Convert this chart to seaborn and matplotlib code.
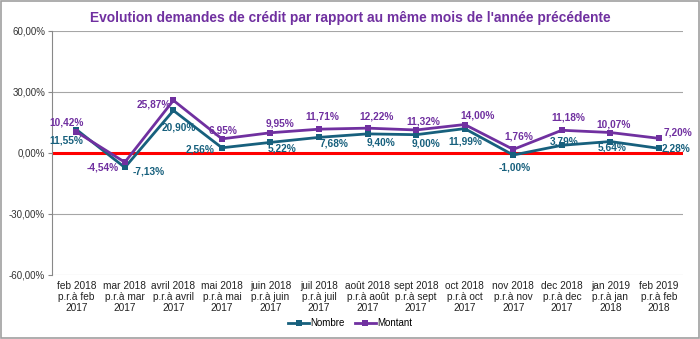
import matplotlib
matplotlib.use("Agg")
import matplotlib.pyplot as plt
import seaborn as sns
import pandas as pd
import numpy as np

categories = [
    "feb 2018\np.r.à feb\n2017", "mar 2018\np.r.à mar\n2017", "avril 2018\np.r.à avril\n2017",
    "mai 2018\np.r.à mai\n2017", "juin 2018\np.r.à juin\n2017", "juil 2018\np.r.à juil\n2017",
    "août 2018\np.r.à août\n2017", "sept 2018\np.r.à sept\n2017", "oct 2018\np.r.à oct\n2017",
    "nov 2018\np.r.à nov\n2017", "dec 2018\np.r.à dec\n2017", "jan 2019\np.r.à jan\n2018",
    "feb 2019\np.r.à feb\n2018",
]
nombre = [11.55, -7.13, 20.90, 2.56, 5.22, 7.68, 9.40, 9.00, 11.99, -1.00, 3.79, 5.64, 2.28]
montant = [10.42, -4.54, 25.87, 6.95, 9.95, 11.71, 12.22, 11.32, 14.00, 1.76, 11.18, 10.07, 7.20]
series_names = ["Nombre", "Montant"]
title = "Evolution demandes de crédit par rapport au même mois de l'année précédente"

# label offsets in points (style only)
off_nombre = [(-7, -8), (17, -3), (4, -12), (-16, -1), (8, -4.5), (11, -4.5), (10, -6.5), (7, -6),
              (0.5, -9), (1, -9), (2, 3), (1.5, -4.5), (12, 0)]
off_montant = [(-7, 6.5), (-16, -3.5), (-14, -3), (1, 6), (7, 6.5), (2, 9), (6.5, 8.5), (5, 6),
               (9, 6.5), (4, 9), (5, 9), (2, 6), (14, 4)]

df = pd.DataFrame({
    "x": list(range(len(categories))) * 2,
    "val": nombre + montant,
    "serie": [series_names[0]] * len(nombre) + [series_names[1]] * len(montant),
})

c_nombre = "#17607D"
c_montant = "#7030A0"

plt.rcParams["font.family"] = ["Liberation Sans", "DejaVu Sans"]
fig = plt.figure(figsize=(7, 3.39), dpi=100)
ax = fig.add_axes([0.0743, 0.1888, 0.9017, 0.7198])

sns.lineplot(data=df, x="x", y="val", hue="serie", palette=[c_nombre, c_montant],
             style="serie", markers=["s", "s"], dashes=False, markersize=5,
             linewidth=2.0, markeredgewidth=0, ax=ax, legend=True)

ax.axhline(0, color="#FF0000", lw=2.2, zorder=1.5)
ax.set_xlim(-0.5, len(categories) - 0.5)
ax.set_ylim(-60, 60)
ax.set_yticks([-60, -30, 0, 30, 60])
ax.set_yticklabels([f"{v:.2f}%".replace(".", ",") for v in [-60, -30, 0, 30, 60]], fontsize=7, color="#333333")
ax.set_xticks(range(len(categories)))
ax.set_xticklabels(categories, fontsize=7.3, color="#222222", linespacing=1.15)
ax.tick_params(axis="x", length=0, pad=4)
ax.tick_params(axis="y", length=3, color="#888888", pad=2)
ax.grid(axis="y", color="#A6A6A6", lw=0.8)
ax.set_axisbelow(True)
for s in ["top", "right", "bottom"]:
    ax.spines[s].set_visible(False)
ax.spines["left"].set_color("#888888")
ax.spines["left"].set_linewidth(0.8)
ax.set_xlabel("")
ax.set_ylabel("")

for i, (n, m) in enumerate(zip(nombre, montant)):
    ax.annotate(f"{n:.2f}%".replace(".", ","), (i, n), xytext=off_nombre[i], textcoords="offset points",
                ha="center", va="center", fontsize=7.3, color=c_nombre, fontweight="bold")
    ax.annotate(f"{m:.2f}%".replace(".", ","), (i, m), xytext=off_montant[i], textcoords="offset points",
                ha="center", va="center", fontsize=7.3, color=c_montant, fontweight="bold")

handles, labels = ax.get_legend_handles_labels()
ax.legend(handles, labels, loc="center", bbox_to_anchor=(0.5, 0.047), bbox_transform=fig.transFigure,
          ncol=2, frameon=False, fontsize=7, handlelength=2.2, handletextpad=0.1, columnspacing=1.0,
          borderaxespad=0, borderpad=0)

fig.text(0.5, 0.948, title, ha="center", va="center", fontsize=9.9, fontweight="bold", color="#7030A0")
fig.patches.append(plt.Rectangle((0.0015, 0.003), 0.997, 0.994, transform=fig.transFigure,
                                 fill=False, edgecolor="#A0A0A0", lw=1.2))
fig.savefig("out.png", dpi=100)
